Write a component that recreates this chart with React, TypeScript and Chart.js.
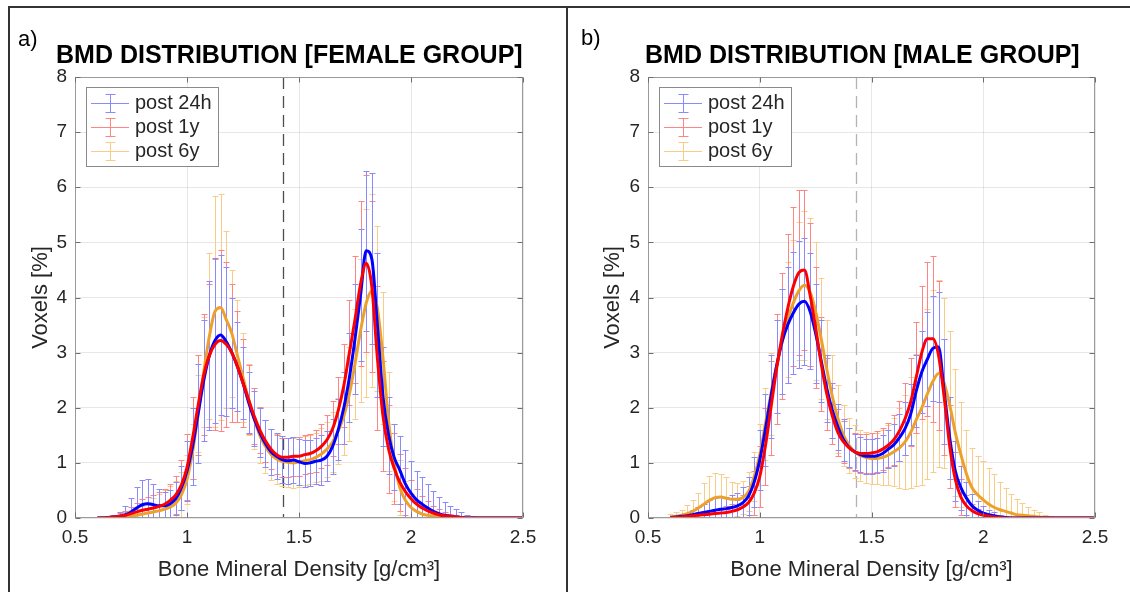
import React, { useEffect, useRef } from "react";
import { Chart, registerables } from "chart.js";

Chart.register(...registerables);

const FONT_FAMILY = "'Liberation Sans', Arial, Helvetica, sans-serif";
Chart.defaults.font.family = FONT_FAMILY;

const TEXT_COLOR = "#262626";
const GRID_COLOR = "rgba(38,38,38,0.11)";
const FRAME_COLOR = "#9a9a9a";

// Bone mineral density bins [g/cm3]
const BMD = [
  0.6, 0.625, 0.65, 0.675, 0.7, 0.725, 0.75, 0.775, 0.8, 0.825,
  0.85, 0.875, 0.9, 0.925, 0.95, 0.975, 1.0, 1.025, 1.05, 1.075,
  1.1, 1.125, 1.15, 1.175, 1.2, 1.225, 1.25, 1.275, 1.3, 1.325,
  1.35, 1.375, 1.4, 1.425, 1.45, 1.475, 1.5, 1.525, 1.55, 1.575,
  1.6, 1.625, 1.65, 1.675, 1.7, 1.725, 1.75, 1.775, 1.8, 1.825,
  1.85, 1.875, 1.9, 1.925, 1.95, 1.975, 2.0, 2.025, 2.05, 2.075,
  2.1, 2.125, 2.15, 2.175, 2.2, 2.225, 2.25, 2.275, 2.3, 2.325,
  2.35, 2.375, 2.4, 2.425, 2.45, 2.475, 2.5,
];

// ---------- Female group (a) ----------
const F_POST24H = [
  0, 0, 0.01, 0.02, 0.03, 0.06, 0.11, 0.18, 0.24, 0.26,
  0.24, 0.22, 0.22, 0.26, 0.35, 0.55, 0.85, 1.3, 1.9, 2.5,
  2.95, 3.22, 3.32, 3.2, 3.0, 2.75, 2.45, 2.1, 1.8, 1.55,
  1.35, 1.2, 1.12, 1.06, 1.04, 1.05, 1.02, 0.99, 1.0, 1.03,
  1.05, 1.12, 1.3, 1.6, 2.0, 2.55, 3.25, 4.05, 4.85, 4.7,
  3.5, 2.2, 1.5, 1.1, 0.87, 0.62, 0.45, 0.33, 0.25, 0.18,
  0.12, 0.08, 0.05, 0.03, 0.02, 0.01, 0, 0, 0, 0,
  0, 0, 0, 0, 0, 0, 0,
];
const F_POST24H_SD = [
  0, 0, 0.02, 0.04, 0.08, 0.15, 0.25, 0.38, 0.45, 0.45,
  0.38, 0.3, 0.25, 0.25, 0.3, 0.4, 0.55, 0.7, 0.9, 1.1,
  1.35, 1.5, 1.45, 1.35, 1.0, 0.8, 0.65, 0.55, 0.5, 0.45,
  0.42, 0.42, 0.42, 0.42, 0.42, 0.42, 0.42, 0.42, 0.42, 0.42,
  0.45, 0.45, 0.5, 0.55, 0.65, 0.8, 1.0, 1.2, 1.45, 1.55,
  1.3, 0.9, 0.7, 0.6, 0.62, 0.62, 0.58, 0.52, 0.5, 0.44,
  0.37, 0.3, 0.24, 0.19, 0.14, 0.09, 0.05, 0.03, 0, 0,
  0, 0, 0, 0, 0, 0, 0,
];
const F_POST1Y = [
  0, 0, 0.01, 0.02, 0.03, 0.05, 0.08, 0.11, 0.14, 0.16,
  0.18, 0.21, 0.25, 0.32, 0.42, 0.6, 0.92, 1.45, 2.05, 2.6,
  2.95, 3.15, 3.22, 3.15, 3.0, 2.75, 2.45, 2.15, 1.85, 1.6,
  1.4, 1.25, 1.15, 1.1, 1.1, 1.12, 1.12, 1.15, 1.17, 1.22,
  1.3, 1.42, 1.62, 1.95, 2.4, 3.0, 3.6, 4.25, 4.62, 4.2,
  2.9, 1.85, 1.25, 0.9, 0.65, 0.48, 0.35, 0.25, 0.18, 0.13,
  0.09, 0.06, 0.04, 0.03, 0.02, 0.01, 0, 0, 0, 0,
  0, 0, 0, 0, 0, 0, 0,
];
const F_POST1Y_SD = [
  0, 0, 0.02, 0.04, 0.06, 0.08, 0.12, 0.16, 0.2, 0.22,
  0.24, 0.26, 0.28, 0.3, 0.35, 0.45, 0.6, 0.75, 0.9, 1.1,
  1.3, 1.55, 1.65, 1.5, 1.25, 1.0, 0.8, 0.62, 0.5, 0.42,
  0.38, 0.36, 0.35, 0.35, 0.35, 0.35, 0.35, 0.35, 0.36, 0.38,
  0.4, 0.45, 0.5, 0.6, 0.75, 0.95, 1.15, 1.5, 1.6, 1.55,
  1.3, 1.0, 0.8, 0.65, 0.52, 0.42, 0.34, 0.27, 0.22, 0.17,
  0.13, 0.1, 0.07, 0.05, 0.03, 0.02, 0.01, 0, 0, 0,
  0, 0, 0, 0, 0, 0, 0,
];
const F_POST6Y = [
  0, 0.005, 0.01, 0.015, 0.02, 0.03, 0.04, 0.05, 0.07, 0.09,
  0.11, 0.13, 0.16, 0.2, 0.27, 0.42, 0.7, 1.2, 1.9, 2.65,
  3.3, 3.75, 3.82, 3.6, 3.35, 2.95, 2.55, 2.15, 1.8, 1.5,
  1.3, 1.15, 1.07, 1.03, 1.01, 1.0, 1.02, 1.04, 1.06, 1.1,
  1.16, 1.25, 1.38, 1.58, 1.85, 2.25, 2.8, 3.4, 3.9, 4.12,
  3.8, 2.9, 1.75, 1.0, 0.55, 0.32, 0.19, 0.12, 0.07, 0.05,
  0.03, 0.02, 0.01, 0, 0, 0, 0, 0, 0, 0,
  0, 0, 0, 0, 0, 0, 0,
];
const F_POST6Y_SD = [
  0, 0.01, 0.02, 0.03, 0.05, 0.07, 0.1, 0.12, 0.15, 0.2,
  0.25, 0.3, 0.35, 0.38, 0.4, 0.42, 0.45, 0.5, 0.7, 1.0,
  1.5, 2.1, 2.05, 1.6, 1.15, 1.0, 0.8, 0.65, 0.55, 0.5,
  0.48, 0.46, 0.45, 0.45, 0.45, 0.45, 0.45, 0.45, 0.45, 0.45,
  0.48, 0.5, 0.55, 0.6, 0.7, 0.85, 1.0, 1.3, 1.7, 1.75,
  1.5, 1.2, 0.9, 0.7, 0.5, 0.35, 0.25, 0.17, 0.12, 0.08,
  0.05, 0.03, 0.02, 0.01, 0, 0, 0, 0, 0, 0,
  0, 0, 0, 0, 0, 0, 0,
];

// ---------- Male group (b) ----------
const M_POST24H = [
  0.01, 0.02, 0.03, 0.04, 0.06, 0.08, 0.1, 0.12, 0.14, 0.16,
  0.17, 0.19, 0.22, 0.28, 0.4, 0.65, 1.05, 1.6, 2.2, 2.75,
  3.2, 3.5, 3.72, 3.88, 3.93, 3.75, 3.35, 2.85, 2.35, 1.95,
  1.65, 1.42, 1.28, 1.2, 1.15, 1.12, 1.12, 1.13, 1.17, 1.25,
  1.33, 1.46, 1.62, 1.88, 2.3, 2.65, 2.88, 3.08, 3.1, 2.3,
  1.45, 0.85, 0.55, 0.36, 0.22, 0.14, 0.09, 0.06, 0.04, 0.02,
  0.01, 0, 0, 0, 0, 0, 0, 0, 0, 0,
  0, 0, 0, 0, 0, 0, 0,
];
const M_POST24H_SD = [
  0.01, 0.02, 0.03, 0.05, 0.08, 0.12, 0.16, 0.2, 0.22, 0.22,
  0.22, 0.22, 0.24, 0.28, 0.35, 0.45, 0.55, 0.65, 0.75, 0.85,
  0.95, 1.05, 1.1, 1.15, 1.15, 1.05, 0.9, 0.75, 0.6, 0.5,
  0.42, 0.38, 0.35, 0.33, 0.32, 0.32, 0.32, 0.32, 0.33, 0.35,
  0.38, 0.42, 0.48, 0.55, 0.65, 0.75, 0.85, 0.95, 1.0, 0.95,
  0.75, 0.55, 0.4, 0.3, 0.22, 0.16, 0.12, 0.09, 0.06, 0.04,
  0.02, 0.01, 0, 0, 0, 0, 0, 0, 0, 0,
  0, 0, 0, 0, 0, 0, 0,
];
const M_POST1Y = [
  0.01, 0.01, 0.02, 0.03, 0.04, 0.05, 0.06, 0.07, 0.08, 0.09,
  0.1, 0.12, 0.15, 0.2, 0.28, 0.45, 0.75, 1.3, 2.0, 2.7,
  3.3, 3.8, 4.2, 4.45, 4.5, 4.05, 3.45, 2.8, 2.25, 1.85,
  1.55, 1.38, 1.27, 1.2, 1.17, 1.17, 1.18, 1.2, 1.25, 1.32,
  1.42, 1.58, 1.8, 2.1, 2.55, 3.0, 3.25, 3.25, 2.95, 2.2,
  1.3, 0.7, 0.38, 0.22, 0.13, 0.08, 0.05, 0.03, 0.02, 0.01,
  0, 0, 0, 0, 0, 0, 0, 0, 0, 0,
  0, 0, 0, 0, 0, 0, 0,
];
const M_POST1Y_SD = [
  0.01, 0.02, 0.03, 0.04, 0.05, 0.06, 0.07, 0.08, 0.09, 0.1,
  0.12, 0.14, 0.18, 0.22, 0.3, 0.4, 0.55, 0.7, 0.85, 1.0,
  1.15, 1.35, 1.45, 1.5, 1.45, 1.3, 1.1, 0.85, 0.65, 0.5,
  0.42, 0.38, 0.36, 0.35, 0.35, 0.35, 0.36, 0.37, 0.38, 0.4,
  0.45, 0.55, 0.65, 0.8, 1.0, 1.2, 1.4, 1.5, 1.35, 1.05,
  0.75, 0.5, 0.32, 0.2, 0.12, 0.08, 0.05, 0.03, 0.02, 0.01,
  0, 0, 0, 0, 0, 0, 0, 0, 0, 0,
  0, 0, 0, 0, 0, 0, 0,
];
const M_POST6Y = [
  0.02, 0.03, 0.05, 0.08, 0.12, 0.18, 0.25, 0.32, 0.37, 0.38,
  0.36, 0.34, 0.34, 0.37, 0.48, 0.75, 1.15, 1.7, 2.25, 2.75,
  3.2, 3.6, 3.9, 4.12, 4.22, 4.1, 3.75, 3.25, 2.7, 2.2,
  1.8, 1.5, 1.32, 1.2, 1.13, 1.1, 1.08, 1.08, 1.1, 1.14,
  1.2, 1.27, 1.38, 1.55, 1.78, 2.0, 2.25, 2.48, 2.62, 2.45,
  2.05, 1.55, 1.15, 0.8, 0.55, 0.42, 0.33, 0.25, 0.19, 0.15,
  0.12, 0.09, 0.06, 0.05, 0.04, 0.03, 0.02, 0.01, 0.01, 0,
  0, 0, 0, 0, 0, 0, 0,
];
const M_POST6Y_SD = [
  0.05, 0.08, 0.1, 0.15, 0.2, 0.28, 0.38, 0.45, 0.45, 0.42,
  0.38, 0.32, 0.3, 0.3, 0.35, 0.45, 0.55, 0.65, 0.75, 0.85,
  0.95, 1.05, 1.15, 1.25, 1.35, 1.35, 1.25, 1.1, 0.9, 0.75,
  0.62, 0.55, 0.5, 0.48, 0.46, 0.46, 0.46, 0.47, 0.5, 0.55,
  0.62, 0.72, 0.85, 1.0, 1.2, 1.4, 1.55, 1.65, 1.7, 1.55,
  1.35, 1.15, 0.95, 0.8, 0.72, 0.7, 0.7, 0.65, 0.6, 0.5,
  0.43, 0.35, 0.28, 0.22, 0.16, 0.12, 0.08, 0.05, 0.03, 0.02,
  0.01, 0, 0, 0, 0, 0, 0,
];

const SERIES_LABELS = ["post 24h", "post 1y", "post 6y"];
const LINE_COLORS = ["#0000ff", "#ff0000", "#eda12a"];
const BAR_COLORS = ["#8a8aff", "#ff8585", "#f9cd88"];
const LINE_ORDER = [1, 0, 2]; // red on top, then blue, orange beneath
const X_MIN = 0.5;
const X_MAX = 2.5;
const X_STEP = 0.5;
const Y_MIN = 0;
const Y_MAX = 8;
const Y_STEP = 1;
const CUTOFF_BMD = 1.43;

const PANEL_TITLES = ["BMD DISTRIBUTION [FEMALE GROUP]", "BMD DISTRIBUTION [MALE GROUP]"];
const PANEL_TAGS = ["a)", "b)"];
const X_TITLE = "Bone Mineral Density [g/cm\u00B3]";
const Y_TITLE = "Voxels [%]";

type PanelSpec = {
  width: number;
  plotLeft: number;
  plotRight: number;
  yTitlePad: number;
  means: number[][];
  sds: number[][];
  cutoffColor: string;
};

const PLOT_TOP = 77;
const PLOT_BOTTOM = 518;
const HEIGHT = 592;

const decorPlugin = {
  id: "panelDecor",
  beforeDatasetsDraw(chart: any, _args: any, opts: any) {
    const { ctx, chartArea: a, scales } = chart;
    const x = scales.x;
    const y = scales.y;
    ctx.save();
    ctx.beginPath();
    ctx.rect(a.left, a.top, a.right - a.left, a.bottom - a.top);
    ctx.clip();
    // cut-off line
    const cx = Math.round(x.getPixelForValue(CUTOFF_BMD)) + 0.5;
    ctx.strokeStyle = opts.cutoffColor;
    ctx.lineWidth = 1.3;
    ctx.setLineDash([12, 7]);
    ctx.beginPath();
    ctx.moveTo(cx, a.top);
    ctx.lineTo(cx, a.bottom);
    ctx.stroke();
    ctx.setLineDash([]);
    // error bars
    ctx.lineWidth = 1;
    [2, 1, 0].forEach((di) => {
      const ds = chart.data.datasets[di];
      const errs: number[] = ds.errors;
      ctx.strokeStyle = BAR_COLORS[di];
      ctx.beginPath();
      ds.data.forEach((p: any, i: number) => {
        const e = errs[i];
        if (!e) return;
        const px = Math.round(x.getPixelForValue(p.x)) + 0.5;
        const yt = Math.round(y.getPixelForValue(p.y + e)) + 0.5;
        const yb = Math.round(y.getPixelForValue(p.y - e)) + 0.5;
        ctx.moveTo(px, yt);
        ctx.lineTo(px, yb);
        ctx.moveTo(px - 3, yt);
        ctx.lineTo(px + 3, yt);
        ctx.moveTo(px - 3, yb);
        ctx.lineTo(px + 3, yb);
      });
      ctx.stroke();
    });
    ctx.restore();
  },
  afterDraw(chart: any) {
    const { ctx, chartArea: a, scales } = chart;
    const x = scales.x;
    const y = scales.y;
    ctx.save();
    // frame
    const L = Math.round(a.left) + 0.5;
    const R = Math.round(a.right) - 0.5;
    const T = Math.round(a.top) + 0.5;
    const B = Math.round(a.bottom) - 0.5;
    ctx.strokeStyle = FRAME_COLOR;
    ctx.lineWidth = 1;
    ctx.strokeRect(L, T, R - L, B - T);
    // inward ticks
    ctx.strokeStyle = "#6e6e6e";
    ctx.beginPath();
    x.ticks.forEach((t: any) => {
      const px = Math.round(x.getPixelForValue(t.value)) + 0.5;
      ctx.moveTo(px, B);
      ctx.lineTo(px, B - 5);
      ctx.moveTo(px, T);
      ctx.lineTo(px, T + 5);
    });
    y.ticks.forEach((t: any) => {
      const py = Math.round(y.getPixelForValue(t.value)) + 0.5;
      ctx.moveTo(L, py);
      ctx.lineTo(L + 5, py);
      ctx.moveTo(R, py);
      ctx.lineTo(R - 5, py);
    });
    ctx.stroke();
    // legend
    const lx = Math.round(a.left) + 11;
    const ly = Math.round(a.top) + 10;
    const lw = 132;
    const lh = 79;
    ctx.fillStyle = "#ffffff";
    ctx.fillRect(lx, ly, lw, lh);
    ctx.strokeStyle = "#8a8a8a";
    ctx.strokeRect(lx + 0.5, ly + 0.5, lw, lh);
    ctx.font = `20px ${FONT_FAMILY}`;
    ctx.textBaseline = "middle";
    ctx.textAlign = "left";
    chart.data.datasets.forEach((ds: any, i: number) => {
      const cy = ly + 16 + i * 24 + 0.5;
      const gx = lx + 24.5;
      ctx.strokeStyle = BAR_COLORS[i];
      ctx.beginPath();
      ctx.moveTo(lx + 5, cy);
      ctx.lineTo(lx + 43, cy);
      ctx.moveTo(gx, cy - 9);
      ctx.lineTo(gx, cy + 9);
      ctx.moveTo(gx - 5, cy - 9);
      ctx.lineTo(gx + 5, cy - 9);
      ctx.moveTo(gx - 5, cy + 9);
      ctx.lineTo(gx + 5, cy + 9);
      ctx.stroke();
      ctx.fillStyle = TEXT_COLOR;
      ctx.fillText(ds.label, lx + 49, cy);
    });
    ctx.restore();
  },
};

function PanelChart({ spec }: { spec: PanelSpec }) {
  const ref = useRef<HTMLCanvasElement | null>(null);
  useEffect(() => {
    const canvas = ref.current;
    if (!canvas) return;
    const datasets = spec.means.map((m, si) => ({
      label: SERIES_LABELS[si],
      data: BMD.map((bx, i) => ({ x: bx, y: m[i] })),
      errors: spec.sds[si],
      borderColor: LINE_COLORS[si],
      backgroundColor: LINE_COLORS[si],
      borderWidth: 3,
      pointRadius: 0,
      fill: false,
      cubicInterpolationMode: "monotone",
      order: LINE_ORDER[si],
    }));
    const chart = new Chart(canvas, {
      type: "line",
      data: { datasets } as any,
      plugins: [decorPlugin as any],
      options: {
        animation: false,
        responsive: false,
        devicePixelRatio: 1,
        layout: {
          padding: { left: 0, top: PLOT_TOP, right: spec.width - spec.plotRight, bottom: 0 },
        },
        plugins: {
          legend: { display: false },
          tooltip: { enabled: false },
          title: { display: false },
          panelDecor: { cutoffColor: spec.cutoffColor },
        } as any,
        scales: {
          x: {
            type: "linear",
            min: X_MIN,
            max: X_MAX,
            afterFit: (s: any) => {
              s.height = HEIGHT - PLOT_BOTTOM;
            },
            ticks: {
              stepSize: X_STEP,
              autoSkip: false,
              maxRotation: 0,
              padding: 8,
              color: TEXT_COLOR,
              font: { size: 19 },
              callback: (v: any) => String(v),
            },
            grid: { color: GRID_COLOR, drawTicks: false, lineWidth: 1 },
            border: { display: false },
            title: {
              display: true,
              text: X_TITLE,
              color: TEXT_COLOR,
              font: { size: 22 },
              padding: { top: 0, bottom: 9 },
            },
          },
          y: {
            type: "linear",
            min: Y_MIN,
            max: Y_MAX,
            afterFit: (s: any) => {
              s.width = spec.plotLeft;
            },
            ticks: {
              stepSize: Y_STEP,
              padding: 8,
              color: TEXT_COLOR,
              font: { size: 19 },
              callback: (v: any) => String(v),
            },
            grid: { color: GRID_COLOR, drawTicks: false, lineWidth: 1 },
            border: { display: false },
            title: {
              display: true,
              text: Y_TITLE,
              color: TEXT_COLOR,
              font: { size: 22 },
              padding: { top: spec.yTitlePad, bottom: 0 },
            },
          },
        },
      } as any,
    });
    return () => chart.destroy();
  }, [spec]);
  return (
    <canvas
      ref={ref}
      width={spec.width}
      height={HEIGHT}
      style={{ display: "block", width: spec.width, height: HEIGHT }}
    />
  );
}

const LEFT_SPEC: PanelSpec = {
  width: 566,
  plotLeft: 75,
  plotRight: 523,
  yTitlePad: 28,
  means: [F_POST24H, F_POST1Y, F_POST6Y],
  sds: [F_POST24H_SD, F_POST1Y_SD, F_POST6Y_SD],
  cutoffColor: "#4d4d4d",
};

const RIGHT_SPEC: PanelSpec = {
  width: 562,
  plotLeft: 80,
  plotRight: 527,
  yTitlePad: 32,
  means: [M_POST24H, M_POST1Y, M_POST6Y],
  sds: [M_POST24H_SD, M_POST1Y_SD, M_POST6Y_SD],
  cutoffColor: "#b3b3b3",
};

const abs = (s: React.CSSProperties): React.CSSProperties => ({ position: "absolute", ...s });

export default function App() {
  return (
    <div
      style={{
        position: "fixed",
        left: 0,
        top: 0,
        width: 1130,
        height: 592,
        background: "#ffffff",
        overflow: "hidden",
        fontFamily: FONT_FAMILY,
        color: "#000",
      }}
    >
      <div style={abs({ left: 0, top: 0, width: 566, height: HEIGHT })}>
        <PanelChart spec={LEFT_SPEC} />
      </div>
      <div style={abs({ left: 568, top: 0, width: 562, height: HEIGHT })}>
        <PanelChart spec={RIGHT_SPEC} />
      </div>
      {/* panel borders */}
      <div style={abs({ left: 8, top: 6, width: 1122, height: 2, background: "#333" })} />
      <div style={abs({ left: 8, top: 6, width: 2, height: 586, background: "#333" })} />
      <div style={abs({ left: 566, top: 6, width: 2, height: 586, background: "#333" })} />
      {/* panel tags */}
      <div style={abs({ left: 18, top: 28, fontSize: 22, lineHeight: "22px", whiteSpace: "nowrap" })}>
        {PANEL_TAGS[0]}
      </div>
      <div style={abs({ left: 581, top: 27, fontSize: 22, lineHeight: "22px", whiteSpace: "nowrap" })}>
        {PANEL_TAGS[1]}
      </div>
      {/* titles */}
      <div
        style={abs({ left: 56, top: 42, fontSize: 25, fontWeight: 700, lineHeight: "25px", whiteSpace: "nowrap" })}
      >
        {PANEL_TITLES[0]}
      </div>
      <div
        style={abs({ left: 645, top: 42, fontSize: 25, fontWeight: 700, lineHeight: "25px", whiteSpace: "nowrap" })}
      >
        {PANEL_TITLES[1]}
      </div>
    </div>
  );
}
